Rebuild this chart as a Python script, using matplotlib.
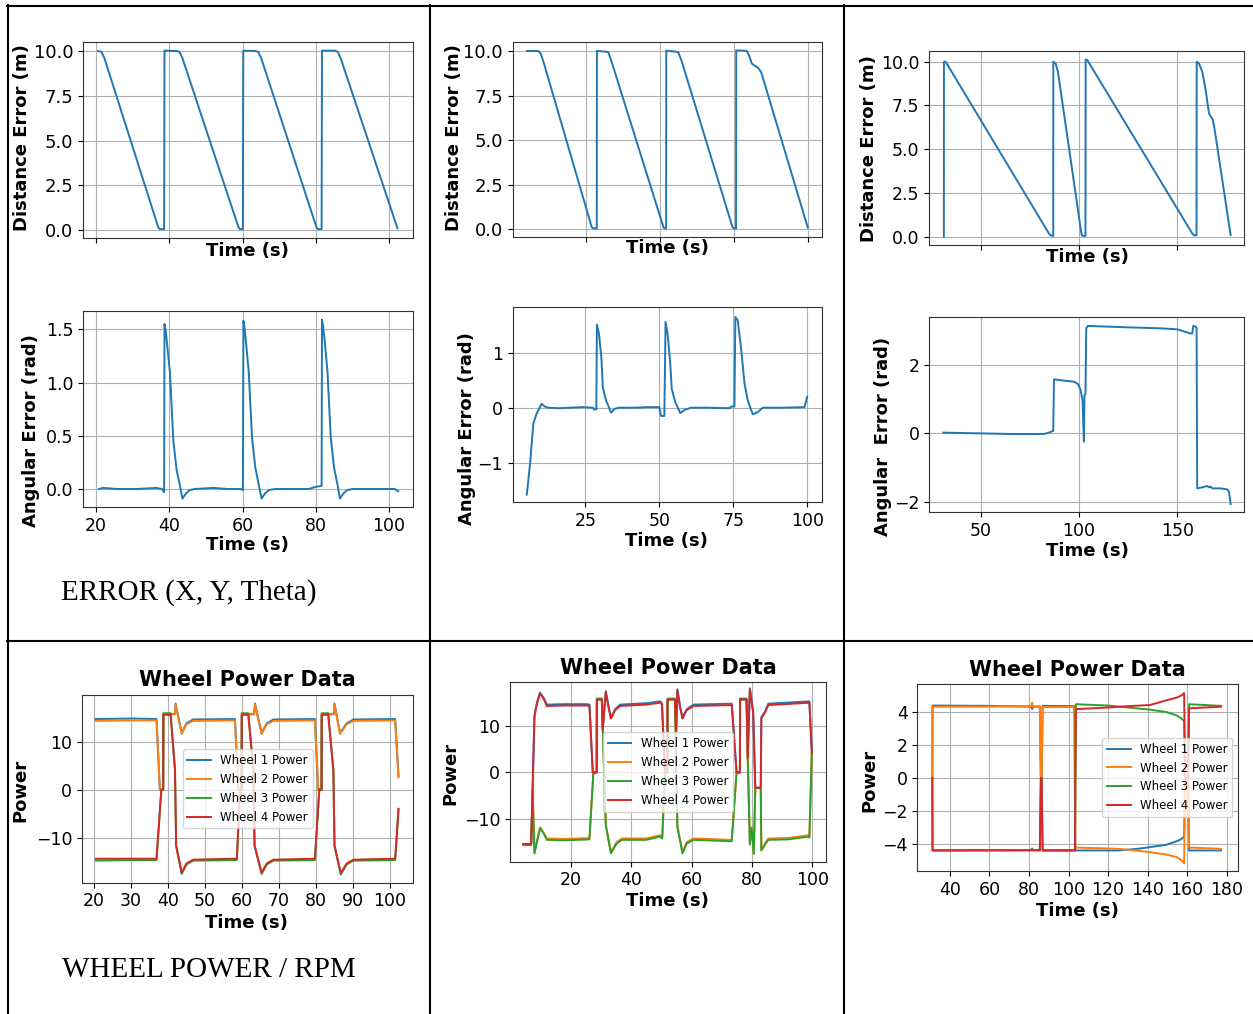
import matplotlib
matplotlib.use("Agg")
import matplotlib.pyplot as plt
import numpy as np
from matplotlib.lines import Line2D

W, H = 1253, 1014
BLUE, ORANGE, GREEN, RED = "#1f77b4", "#ff7f0e", "#2ca02c", "#d62728"

# ---- top row: distance / angular error, (time s, value) ----
tl_dist = [(20.6, 10.0), (21.5, 9.95), (22.3, 9.6), (37.0, 0.15), (37.4, 0.05), (38.6, 0.05),
           (38.7, 10.02), (42.0, 10.0), (42.8, 9.95), (43.6, 9.6), (58.9, 0.15), (59.3, 0.05),
           (60.1, 0.05), (60.2, 10.02), (63.5, 10.0), (64.3, 9.95), (65.1, 9.6), (80.2, 0.15),
           (80.6, 0.05), (81.6, 0.05), (81.7, 10.02), (85.2, 10.02), (86.0, 9.95), (86.8, 9.6),
           (102.3, 0.1)]
tl_ang = [(20.8, 0.0), (22.0, 0.01), (26.0, 0.0), (31.0, 0.0), (36.5, 0.01), (38.0, 0.0),
          (38.6, -0.03), (38.7, 1.55), (39.0, 1.50), (39.5, 1.33), (40.2, 1.09), (41.1, 0.46),
          (42.0, 0.18), (43.0, 0.02), (43.6, -0.09), (44.6, -0.04), (45.6, -0.01), (47.0, 0.0),
          (52.0, 0.01), (56.0, 0.0), (59.5, 0.0), (60.1, -0.01), (60.25, 1.58), (60.55, 1.52),
          (61.0, 1.36), (61.7, 1.10), (62.6, 0.48), (63.5, 0.2), (64.5, 0.03), (65.2, -0.09),
          (66.2, -0.04), (67.2, -0.01), (69.0, 0.0), (74.0, 0.0), (78.0, 0.0), (80.0, 0.02),
          (81.6, 0.03), (81.7, 1.59), (82.0, 1.53), (82.5, 1.37), (83.2, 1.10), (84.1, 0.48),
          (85.0, 0.2), (86.0, 0.03), (86.6, -0.09), (87.6, -0.04), (88.6, -0.01), (90.0, 0.0),
          (96.0, 0.0), (101.5, 0.0), (102.5, -0.02)]

tm_dist = [(5.2, 10.0), (9.1, 10.0), (9.9, 9.85), (10.8, 9.4), (27.1, 0.12), (27.6, 0.05),
           (28.8, 0.05), (28.85, 10.0), (31.5, 9.97), (32.7, 9.93), (33.8, 9.4), (51.3, 0.12),
           (51.6, 0.05), (52.2, 0.05), (52.25, 10.02), (55.0, 9.97), (56.3, 9.93), (57.5, 9.4),
           (74.6, 0.12), (75.0, 0.05), (75.8, 0.05), (75.85, 10.03), (78.5, 10.02), (79.4, 10.0),
           (80.3, 9.7), (81.1, 9.3), (82.3, 9.15), (83.3, 9.05), (84.3, 8.8), (100.0, 0.1)]
tm_ang = [(5.2, -1.58), (6.3, -1.02), (7.4, -0.29), (8.5, -0.11), (10.2, 0.07), (11.3, 0.02),
          (12.4, 0.0), (16.0, -0.01), (20.0, 0.0), (24.0, 0.01), (27.6, 0.0), (27.9, -0.03),
          (28.7, -0.03), (28.9, 1.51), (29.6, 1.34), (30.4, 0.92), (30.9, 0.37), (32.0, 0.13),
          (33.7, -0.09), (34.9, -0.02), (36.5, 0.0), (42.0, 0.0), (46.0, 0.01), (50.0, 0.01),
          (50.6, -0.15), (51.7, -0.15), (52.1, 1.56), (52.8, 1.34), (53.7, 0.8), (54.2, 0.34),
          (55.4, 0.1), (57.1, -0.1), (58.5, -0.04), (60.8, 0.0), (66.0, 0.0), (73.7, -0.01),
          (74.3, 0.02), (75.4, 0.02), (75.7, 1.65), (76.5, 1.59), (77.6, 1.1), (78.8, 0.44),
          (79.9, 0.13), (81.6, -0.12), (83.3, -0.08), (85.0, 0.0), (92.0, 0.0), (99.1, 0.01),
          (100.0, 0.2)]

tr_dist = [(31.3, 0.0), (31.35, 10.0), (32.2, 10.0), (84.7, 0.19), (85.6, 0.08), (86.9, 0.05),
           (86.95, 10.0), (88.1, 9.9), (89.3, 9.43), (101.2, 0.19), (101.7, 0.05), (103.3, 0.05),
           (103.4, 10.13), (104.2, 10.1), (157.6, 0.19), (158.5, 0.08), (159.75, 0.08),
           (159.85, 10.0), (161.0, 9.9), (162.7, 9.43), (164.4, 8.38), (166.1, 7.05),
           (167.3, 6.82), (168.0, 6.7), (169.0, 6.1), (177.1, 0.1)]
tr_ang = [(31.0, 0.02), (48.3, 0.0), (65.2, -0.02), (82.2, -0.02), (84.7, 0.02), (86.9, 0.07),
          (87.3, 1.58), (92.3, 1.54), (97.4, 1.51), (99.5, 1.44), (100.8, 1.27), (101.8, 0.97),
          (102.5, -0.24), (102.8, 1.12), (103.3, 1.15), (103.7, 3.07), (104.5, 3.14),
          (124.5, 3.10), (141.5, 3.07), (150.0, 3.04), (156.7, 2.92), (157.6, 2.92),
          (158.1, 3.14), (159.3, 3.12), (159.8, 3.07), (160.1, -1.61), (162.7, -1.58),
          (165.2, -1.54), (166.1, -1.58), (166.9, -1.56), (167.8, -1.61), (172.0, -1.61),
          (175.4, -1.64), (176.3, -1.71), (177.1, -2.07)]

# ---- bottom row: wheel power ----
bl_w1 = [(20.5, 14.7), (30, 14.8), (36.9, 14.7), (37.8, 0.0), (38.7, 0.0), (38.75, 15.7),
         (40.7, 15.7), (41.9, 15.8), (42.05, 17.9), (43.7, 11.8), (45.0, 13.8), (46.8, 14.6),
         (58.1, 14.7), (59.0, 0.0), (59.9, 0.0), (59.95, 15.7), (61.7, 15.7), (63.3, 15.8),
         (63.5, 17.9), (65.3, 11.8), (66.7, 13.8), (68.5, 14.6), (79.7, 14.7), (80.6, 0.0),
         (81.5, 0.0), (81.55, 15.7), (83.3, 15.7), (84.8, 15.8), (85.0, 17.9), (86.5, 11.8),
         (88.3, 13.8), (90.1, 14.6), (101.4, 14.7), (102.3, 2.8)]
bl_w2 = [(20.5, 14.3), (30, 14.4), (36.9, 14.4), (37.8, 0.0), (38.7, 0.0), (38.75, 15.6),
         (40.7, 15.6), (41.9, 15.7), (42.05, 17.7), (43.7, 11.6), (45.0, 13.6), (46.8, 14.3),
         (58.1, 14.4), (59.0, 0.0), (59.9, 0.0), (59.95, 15.6), (61.7, 15.6), (63.3, 15.7),
         (63.5, 17.7), (65.3, 11.6), (66.7, 13.6), (68.5, 14.3), (79.7, 14.4), (80.6, 0.0),
         (81.5, 0.0), (81.55, 15.6), (83.3, 15.6), (84.8, 15.7), (85.0, 17.7), (86.5, 11.6),
         (88.3, 13.6), (90.1, 14.3), (101.4, 14.4), (102.3, 2.6)]
bl_w3 = [(20.5, -14.8), (30, -14.7), (36.9, -14.7), (38.2, 0.0), (38.7, 0.0), (38.75, 15.9),
         (40.7, 15.9), (41.9, 4.2), (42.2, -11.8), (43.7, -17.6), (45.0, -15.6), (46.8, -14.8),
         (58.6, -14.7), (59.5, 0.0), (59.9, 0.0), (59.95, 15.9), (61.7, 15.9), (63.1, 4.2),
         (63.4, -11.8), (65.3, -17.6), (66.7, -15.6), (68.5, -14.8), (79.7, -14.7), (80.9, 0.0),
         (81.5, 0.0), (81.55, 15.9), (83.3, 15.9), (84.7, 4.2), (85.0, -11.8), (86.7, -17.7),
         (88.3, -15.6), (90.1, -14.8), (101.4, -14.7), (102.3, -4.2)]
bl_w4 = [(20.5, -14.4), (30, -14.4), (36.9, -14.4), (38.2, 0.0), (38.7, 0.0), (38.75, 15.6),
         (40.7, 15.6), (41.9, 4.0), (42.2, -11.6), (43.7, -17.3), (45.0, -15.4), (46.8, -14.6),
         (58.6, -14.4), (59.5, 0.0), (59.9, 0.0), (59.95, 15.6), (61.7, 15.6), (63.1, 4.0),
         (63.4, -11.6), (65.3, -17.3), (66.7, -15.4), (68.5, -14.6), (79.7, -14.4), (80.9, 0.0),
         (81.5, 0.0), (81.55, 15.6), (83.3, 15.6), (84.7, 4.0), (85.0, -11.6), (86.7, -17.4),
         (88.3, -15.4), (90.1, -14.6), (101.4, -14.4), (102.3, -4.0)]

bm_w1 = [(4.3, -15.4), (6.9, -15.4), (8.0, 12.2), (8.7, 14.7), (9.8, 17.2), (11.0, 16.1),
         (12.1, 14.6), (18, 14.7), (25.3, 14.7), (26.2, 14.6), (27.3, 0.0), (28.6, 0.0),
         (28.65, 15.7), (30.3, 15.7), (30.6, 9.3), (31.6, 17.5), (32.5, 14.3), (33.3, 11.8),
         (34.7, 13.6), (36.3, 14.6), (45.1, 14.9), (49.6, 15.3), (50.2, 14.9), (51.2, 0.0),
         (52.0, 0.0), (52.05, 15.7), (54.5, 15.7), (54.9, 8.6), (55.3, 17.9), (56.2, 14.2),
         (57.0, 11.8), (58.4, 13.6), (60.6, 14.6), (73.3, 14.8), (74.9, 0.0), (76.0, 0.0),
         (76.05, 15.7), (78.2, 15.7), (78.6, 3.2), (79.3, 18.1), (80.4, 13.0), (81.1, -3.3),
         (82.9, -3.3), (83.1, 11.9), (84.3, 13.1), (85.4, 14.8), (99.0, 15.3), (99.8, 4.4)]
bm_w2 = [(4.3, -15.5), (6.9, -15.5), (7.4, -4.0), (8.0, -17.2), (9.85, -11.8), (11.0, -12.9),
         (12.1, -14.2), (18, -14.3), (26.2, -14.1), (27.5, 0.0), (28.6, 0.0), (28.65, 15.7),
         (30.3, 15.7), (31.6, -11.1), (33.3, -17.2), (35.2, -15.0), (36.9, -14.2), (45, -14.2),
         (49.6, -13.5), (50.3, -13.9), (51.2, 0.0), (52.0, 0.0), (52.05, 15.7), (54.5, 15.7),
         (55.3, -11.5), (57.0, -17.2), (58.4, -15.0), (60.6, -14.2), (73.3, -14.5), (74.9, 0.0),
         (76.0, 0.0), (76.05, 15.7), (78.2, 15.7), (78.6, 3.0), (79.3, -15.3), (79.9, -11.8),
         (80.6, -17.3), (81.1, -3.3), (82.9, -3.3), (83.1, -16.6), (84.3, -15.3), (85.4, -14.2),
         (92, -14.1), (98.6, -13.5), (99.0, -13.7), (99.8, 4.3)]
bm_w3 = [(4.3, -15.6), (6.9, -15.6), (7.4, -4.0), (8.0, -17.4), (9.85, -12.0), (11.0, -13.1),
         (12.1, -14.5), (18, -14.6), (26.2, -14.4), (27.5, 0.0), (28.6, 0.0), (28.65, 15.9),
         (30.3, 15.9), (31.6, -11.3), (33.3, -17.4), (35.2, -15.3), (36.9, -14.5), (45, -14.5),
         (49.6, -13.8), (50.3, -14.2), (51.2, 0.0), (52.0, 0.0), (52.05, 15.9), (54.5, 15.9),
         (55.3, -11.7), (57.0, -17.4), (58.4, -15.3), (60.6, -14.5), (73.3, -14.8), (74.9, 0.0),
         (76.0, 0.0), (76.05, 15.9), (78.2, 15.9), (78.6, 3.0), (79.3, -15.5), (79.9, -12.0),
         (80.6, -17.5), (81.1, -3.3), (82.9, -3.3), (83.1, -16.8), (84.3, -15.5), (85.4, -14.5),
         (92, -14.4), (98.6, -13.8), (99.0, -14.0), (99.8, 4.3)]
bm_w4 = [(4.3, -15.4), (6.9, -15.4), (8.0, 12.0), (8.7, 14.5), (9.8, 17.0), (11.0, 15.9),
         (12.1, 14.3), (18, 14.4), (25.3, 14.4), (26.2, 14.3), (27.3, 0.0), (28.6, 0.0),
         (28.65, 15.7), (30.3, 15.7), (30.6, 9.1), (31.6, 17.3), (32.5, 14.1), (33.3, 11.6),
         (34.7, 13.4), (36.3, 14.3), (45.1, 14.6), (49.6, 15.0), (50.2, 14.6), (51.2, 0.0),
         (52.0, 0.0), (52.05, 15.7), (54.5, 15.7), (54.9, 8.4), (55.3, 17.7), (56.2, 14.0),
         (57.0, 11.6), (58.4, 13.4), (60.6, 14.3), (73.3, 14.5), (74.9, 0.0), (76.0, 0.0),
         (76.05, 15.7), (78.2, 15.7), (78.6, 3.0), (79.3, 17.9), (80.4, 12.8), (81.1, -3.3),
         (82.9, -3.3), (83.1, 11.7), (84.3, 12.9), (85.4, 14.5), (99.0, 15.0), (99.8, 4.3)]

br_w1 = [(31.1, 0.0), (31.2, 4.42), (60.0, 4.4), (81.3, 4.35), (81.6, 4.2), (82.0, 4.35),
         (85.5, 4.37), (86.0, 0.0), (86.4, 0.0), (86.9, 4.4), (103.0, 4.38), (103.4, -4.4),
         (125.0, -4.4), (135.0, -4.3), (141.2, -4.2), (149.6, -4.05), (154.7, -3.84),
         (157.2, -3.7), (158.5, -3.55), (159.0, 0.0), (160.5, 0.0), (161.0, -4.4), (177.2, -4.4)]
br_w2 = [(31.1, 0.0), (31.2, 4.35), (55.0, 4.35), (81.2, 4.38), (81.6, 4.6), (81.9, 4.35),
         (85.5, 4.35), (86.0, 0.0), (86.4, 0.0), (86.9, 4.33), (103.0, 4.33), (103.4, -4.22),
         (125.0, -4.3), (135.0, -4.42), (141.2, -4.5), (149.6, -4.65), (154.7, -4.8),
         (157.2, -5.0), (158.5, -5.18), (159.0, 0.0), (160.5, 0.0), (161.0, -4.22), (177.2, -4.3)]
br_w3 = [(31.1, 0.0), (31.2, -4.42), (81.2, -4.4), (81.6, -4.28), (82.0, -4.4), (85.5, -4.4),
         (86.0, 0.0), (86.4, 0.0), (86.9, -4.42), (103.3, -4.42), (103.7, 4.5), (120.0, 4.42),
         (130.0, 4.3), (141.2, 4.17), (149.6, 4.02), (154.7, 3.82), (157.2, 3.62), (158.5, 3.48),
         (159.0, 0.0), (160.5, 0.0), (161.0, 4.5), (177.2, 4.4)]
br_w4 = [(31.1, 0.0), (31.2, -4.38), (85.5, -4.38), (86.0, 0.0), (86.4, 0.0), (86.9, -4.38),
         (103.3, -4.38), (103.7, 4.2), (120.0, 4.3), (130.0, 4.38), (141.2, 4.45), (149.6, 4.74),
         (154.7, 4.9), (157.2, 5.04), (158.5, 5.18), (159.0, 0.0), (160.5, 0.0), (161.0, 4.25),
         (177.2, 4.35)]

wheel_names = ["Wheel 1 Power", "Wheel 2 Power", "Wheel 3 Power", "Wheel 4 Power"]
wheel_colors = [BLUE, ORANGE, GREEN, RED]


def xy(pairs):
    a = np.array(pairs)
    return a[:, 0], a[:, 1]


fig = plt.figure(figsize=(W / 100, H / 100), dpi=100)


def panel(rect, xlim, ylim, xticks, yticks, xlab_c, ylabel, ylab_c,
          xticklabels=True, tick_fs=12.5, title=None, title_y=None):
    # rect / label centres are in picture pixels (left, top, right, bottom)
    l, t, r, b = rect
    ax = fig.add_axes([l / W, 1 - b / H, (r - l) / W, (b - t) / H])
    ax.set_xlim(xlim)
    ax.set_ylim(ylim)
    ax.set_xticks(xticks)
    ax.set_yticks(yticks)
    ax.grid(True, color="#b0b0b0", linewidth=0.8)
    ax.set_axisbelow(True)
    for s in ax.spines.values():
        s.set_color("#333333")
    ax.tick_params(labelsize=tick_fs, labelbottom=xticklabels)
    fx = lambda x: (x - l) / (r - l)
    fy = lambda y: (b - y) / (b - t)
    ax.set_xlabel("Time (s)", fontsize=13, fontweight="bold", va="center")
    ax.xaxis.set_label_coords(fx(xlab_c[0]), fy(xlab_c[1]))
    ax.set_ylabel(ylabel, fontsize=13, fontweight="bold", va="center")
    ax.yaxis.set_label_coords(fx(ylab_c[0]), fy(ylab_c[1]))
    if title:
        ax.set_title(title, fontsize=15, fontweight="bold", y=fy(title_y), va="center", pad=0)
    return ax


dist_ticks = [0, 2.5, 5, 7.5, 10]

# top-left
ax = panel((83, 42, 413, 238), (16.45, 106.55), (-0.447, 10.503), [20, 40, 60, 80, 100], dist_ticks,
           (247.7, 250.5), "Distance Error (m)", (22, 138), xticklabels=False, tick_fs=13)
ax.plot(*xy(tl_dist), color=BLUE, lw=1.4)
ax = panel((83, 310.7, 413, 507.3), (16.45, 106.55), (-0.172, 1.675), [20, 40, 60, 80, 100],
           [0, 0.5, 1.0, 1.5], (247.7, 545.5), "Angular Error (rad)", (31, 431))
ax.plot(*xy(tl_ang), color=BLUE, lw=1.4)

# top-middle
ax = panel((512.7, 41.7, 822.3, 236.7), (0.43, 104.9), (-0.415, 10.52), [25, 50, 75, 100], dist_ticks,
           (667, 248), "Distance Error (m)", (454, 138), xticklabels=False, tick_fs=13)
ax.plot(*xy(tm_dist), color=BLUE, lw=1.4)
ax = panel((512.7, 307.3, 821.7, 502.3), (0.43, 104.9), (-1.72, 1.825), [25, 50, 75, 100],
           [-1, 0, 1], (666.5, 540.5), "Angular Error (rad)", (467, 429))
ax.plot(*xy(tm_ang), color=BLUE, lw=1.4)

# top-right
ax = panel((929.3, 50.7, 1244, 245), (23.9, 183.9), (-0.47, 10.63), [50, 100, 150], dist_ticks,
           (1087, 257.5), "Distance Error (m)", (869, 149), xticklabels=False, tick_fs=12.5)
ax.plot(*xy(tr_dist), color=BLUE, lw=1.4)
ax = panel((929.3, 316.7, 1244, 512.3), (23.9, 183.9), (-2.31, 3.41), [50, 100, 150],
           [-2, 0, 2], (1087, 550.5), "Angular  Error (rad)", (883, 436.5))
ax.plot(*xy(tr_ang), color=BLUE, lw=1.4)

# bottom row
bottom = [
    ((82, 695, 413.3, 882.7), (16.76, 106.3), (-19.4, 19.7), list(range(20, 101, 10)), [-10, 0, 10],
     (246.7, 923), (20, 790), 680.5, [bl_w1, bl_w2, bl_w3, bl_w4], "center"),
    ((510, 682.3, 826, 861.7), (-0.1, 104.5), (-19.2, 19.4), [20, 40, 60, 80, 100], [-10, 0, 10],
     (667.5, 901), (450, 773), 667.7, [bm_w1, bm_w2, bm_w3, bm_w4], "center"),
    ((917.3, 684, 1238.3, 871), (23.5, 185.9), (-5.65, 5.73), list(range(40, 181, 20)),
     [-4, -2, 0, 2, 4], (1077, 911.5), (869.5, 780), 670, [br_w1, br_w2, br_w3, br_w4], "center right"),
]
for rect, xl, yl, xt, yt, xc, yc, ty, series, loc in bottom:
    ax = panel(rect, xl, yl, xt, yt, xc, "Power", yc, title="Wheel Power Data", title_y=ty)
    for s, name, c in zip(series, wheel_names, wheel_colors):
        ax.plot(*xy(s), color=c, lw=1.4, label=name)
    ax.legend(loc=loc, fontsize=8.5, framealpha=0.8)

# table frame
def fline(x0, y0, x1, y1):
    fig.add_artist(Line2D([x0 / W, x1 / W], [1 - y0 / H, 1 - y1 / H], color="black",
                          lw=1.5, transform=fig.transFigure))

fline(7, 6, 1253, 6)
fline(7, 640.5, 1253, 640.5)
for xv in (8, 429.5, 843.5):
    fline(xv, 5, xv, 1014)

fig.text(61 / W, 1 - 600 / H, "ERROR (X, Y, Theta)", fontfamily="Liberation Serif",
         fontsize=21, va="baseline", ha="left")
fig.text(61.5 / W, 1 - 977.3 / H, "WHEEL POWER / RPM", fontfamily="Liberation Serif",
         fontsize=21, va="baseline", ha="left")

fig.savefig("out.png", dpi=100)
